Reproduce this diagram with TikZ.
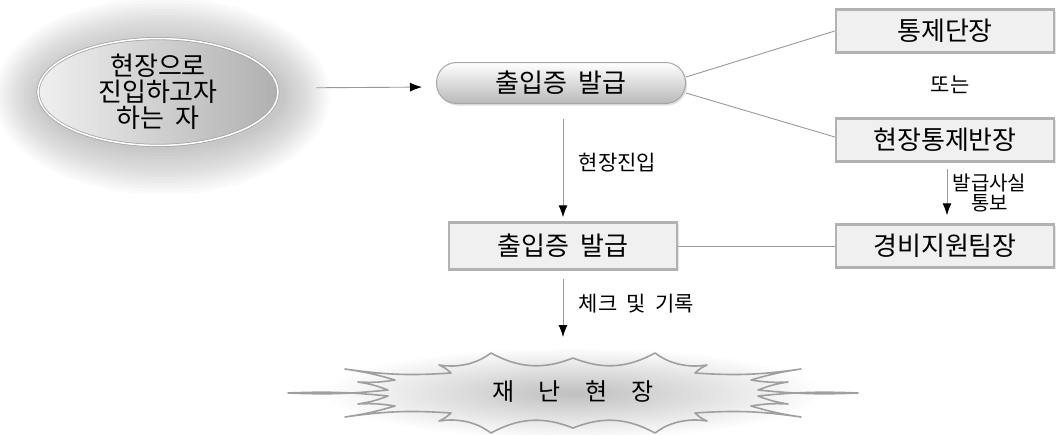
\documentclass[tikz,border=0pt]{standalone}
\usepackage{fontspec}
\setmainfont{Noto Sans CJK KR}[WordSpace=2]
\usetikzlibrary{arrows.meta,shapes.geometric,shadows}

\begin{document}
\begin{tikzpicture}[x=1pt, y=-1pt,
    box/.style={draw=gray!60, line width=2.4pt, fill=gray!12, minimum width=218pt,
      minimum height=43pt, font=\fontsize{26}{28}\selectfont,
      drop shadow={shadow xshift=1.5pt, shadow yshift=-1.5pt, fill=gray!40}},
    lbl/.style={font=\fontsize{21}{20}\selectfont, align=center},
    link/.style={draw=gray!80, line width=0.9pt},
    arr/.style={link, -{Latex[length=12pt, width=9pt, color=black]}}]
  \useasboundingbox (0,0) rectangle (1058,434);
  \foreach \k [evaluate=\k as \rx using 120+3*\k, evaluate=\k as \ry using 51+3*\k] in {1,...,16}
    \fill [black, opacity=0.016] (162,96) ellipse [x radius=\rx, y radius=\ry];
  \node (ENT) [ellipse, minimum width=240pt, minimum height=102pt, inner sep=0pt,
    left color=gray!12, right color=gray!62, draw=gray!70, line width=0.8pt,
    double=white, double distance=1.5pt, align=center,
    font=\fontsize{26}{26}\selectfont] at (158,92) {현장으로\\진입하고자\\하는 자};
  \node (ISS) [rectangle, rounded corners=20pt, minimum width=249pt, minimum height=41pt,
    top color=white, bottom color=gray!55, draw=gray!70, line width=1pt,
    font=\fontsize{26}{28}\selectfont,
    drop shadow={shadow xshift=1.5pt, shadow yshift=-2pt, fill=gray!50}] at (561,83) {출입증 발급};
  \node (CHF) [box] at (945,31) {통제단장};
  \node (CTL) [box] at (945,140) {현장통제반장};
  \node (SEC) [box] at (945,246) {경비지원팀장};
  \node (PASS) [box, minimum width=228pt, minimum height=47pt] at (563,246) {출입증 발급};
  \node (OR) [lbl] at (950,85) {또는};

  \shade [inner color=gray!50, outer color=white] (573,393) ellipse [x radius=250, y radius=46];
  \draw [gray!75, line width=1.6pt, line join=round, shift={(573,393)}]
    (-285,0) to[bend right=4] (-185,-3) to[bend right=6] (-215,-11) to[bend right=6] (-178,-13)
    to[bend right=4] (-228,-24) to[bend right=6] (-122,-20) to[bend right=10] (-134,-28)
    to[bend right=10] (-105,-29) to[bend right=10] (-82,-40) to[bend right=25] (0,-35)
    to[bend right=25] (82,-40) to[bend right=10] (105,-29) to[bend right=10] (134,-28)
    to[bend right=10] (122,-20) to[bend right=6] (228,-24) to[bend right=4] (178,-13)
    to[bend right=6] (215,-11) to[bend right=6] (185,-3) to[bend right=4] (285,0)
    to[bend right=4] (185,3) to[bend right=6] (215,11) to[bend right=6] (178,13)
    to[bend right=4] (228,24) to[bend right=6] (122,20) to[bend right=10] (134,28)
    to[bend right=10] (105,29) to[bend right=10] (82,40) to[bend right=25] (0,35)
    to[bend right=25] (-82,40) to[bend right=10] (-105,29) to[bend right=10] (-134,28)
    to[bend right=10] (-122,20) to[bend right=6] (-228,24) to[bend right=4] (-178,13)
    to[bend right=6] (-215,11) to[bend right=6] (-185,3) to[bend right=4] cycle;
  \node (SITE) [font=\fontsize{24}{25}\selectfont] at (573,392) {재\hspace{24pt}난\hspace{24pt}현\hspace{24pt}장};
  \coordinate (SITEin) at (563,337);

  \draw [arr, shorten <=38pt, shorten >=14pt] ([yshift=4pt]ENT.east) -- ([yshift=-4pt]ISS.west);
  \draw [link] ([yshift=6pt]ISS.east) -- (CHF.west);
  \draw [link] ([yshift=-10pt]ISS.east) -- ([yshift=3pt]CTL.west);
  \draw [link] (PASS) -- (SEC);
  \draw [arr, shorten <=15pt, shorten >=4pt] (PASS.north |- ISS.south) -- (PASS.north)
    node [midway, right, lbl, xshift=12pt] {현장진입};
  \draw [arr, shorten <=8pt] (PASS.south) -- (SITEin)
    node [midway, right, lbl, xshift=12pt] {체크 및 기록};
  \draw [arr, shorten <=6pt, shorten >=8pt] ([xshift=2pt]CTL.south) -- ([xshift=2pt]SEC.north)
    node [midway, right, lbl, xshift=2pt, font=\fontsize{20}{20}\selectfont] {발급사실\\통보};
\end{tikzpicture}
\end{document}
